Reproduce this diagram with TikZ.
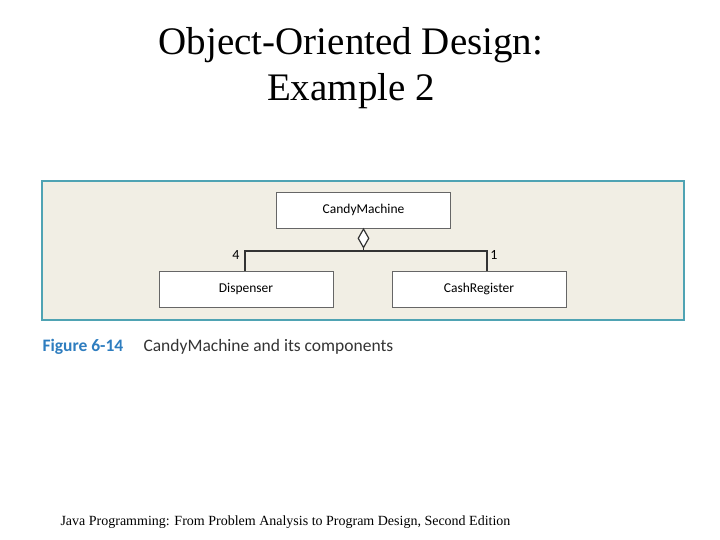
\documentclass[tikz,border=0pt]{standalone}
\usepackage{fontspec}
\setmainfont{Liberation Serif}
\newfontfamily\figfont{Carlito}
\usetikzlibrary{shapes.geometric}
\definecolor{panelbg}{HTML}{F1EEE4}
\definecolor{panelrule}{HTML}{4FA3B3}
\definecolor{figblue}{HTML}{2E7DBF}
\begin{document}
\begin{tikzpicture}[
    x=1pt, y=-1pt,
    classbox/.style={rectangle, draw=black!60, fill=white, minimum width=174pt, minimum height=36pt, font=\figfont\fontsize{13.5}{16}\selectfont, inner sep=0pt},
    link/.style={draw=black!80, line width=1.2pt},
    mult/.style={font=\figfont\fontsize{14}{16}\selectfont, inner sep=1pt}
]
    \useasboundingbox (0,0) rectangle (720,540);
    % Title
    \node[font=\fontsize{39}{46}\selectfont, align=center] (title) at (351,68) {Object-Oriented Design:\\Example 2};
    % Panel
    \node[rectangle, draw=panelrule, line width=1.5pt, fill=panelbg, minimum width=642pt, minimum height=139pt, inner sep=0pt] (panel) at (363,250.5) {};
    % Classes
    \node[classbox] (machine) at (363.5,210) {CandyMachine};
    \node[classbox] (dispenser) at (246,289) {Dispenser};
    \node[classbox] (register) at (479,289) {CashRegister};
    % Aggregation diamond
    \node[diamond, draw=black!80, line width=1.2pt, fill=white, minimum width=11pt, minimum height=19pt, inner sep=0pt, anchor=north] (agg) at (machine.south) {};
    \coordinate (junction) at (363.5,251);
    \coordinate (leftend) at (245,251);
    \coordinate (rightend) at (487,251);
    \draw[link] (agg.south) -- (junction);
    \draw[link] (junction) -- (leftend) -- (leftend |- dispenser.north);
    \draw[link] (junction) -- (rightend) -- (rightend |- register.north);
    \node[mult] (many) at (236,255) {4};
    \node[mult] (one) at (494,255) {1};
    % Caption
    \node[anchor=west, font=\figfont\bfseries\fontsize{17.5}{19}\selectfont, text=figblue] (figno) at (39,347) {Figure 6-14};
    \node[anchor=west, font=\figfont\fontsize{17.5}{19}\selectfont, text=black!80] (caption) at (140,347) {CandyMachine and its components};
    % Footer
    \node[anchor=west, font=\fontsize{14}{16}\selectfont] (footer) at (57,522) {Java Programming: From Problem Analysis to Program Design, Second Edition};
\end{tikzpicture}
\end{document}
